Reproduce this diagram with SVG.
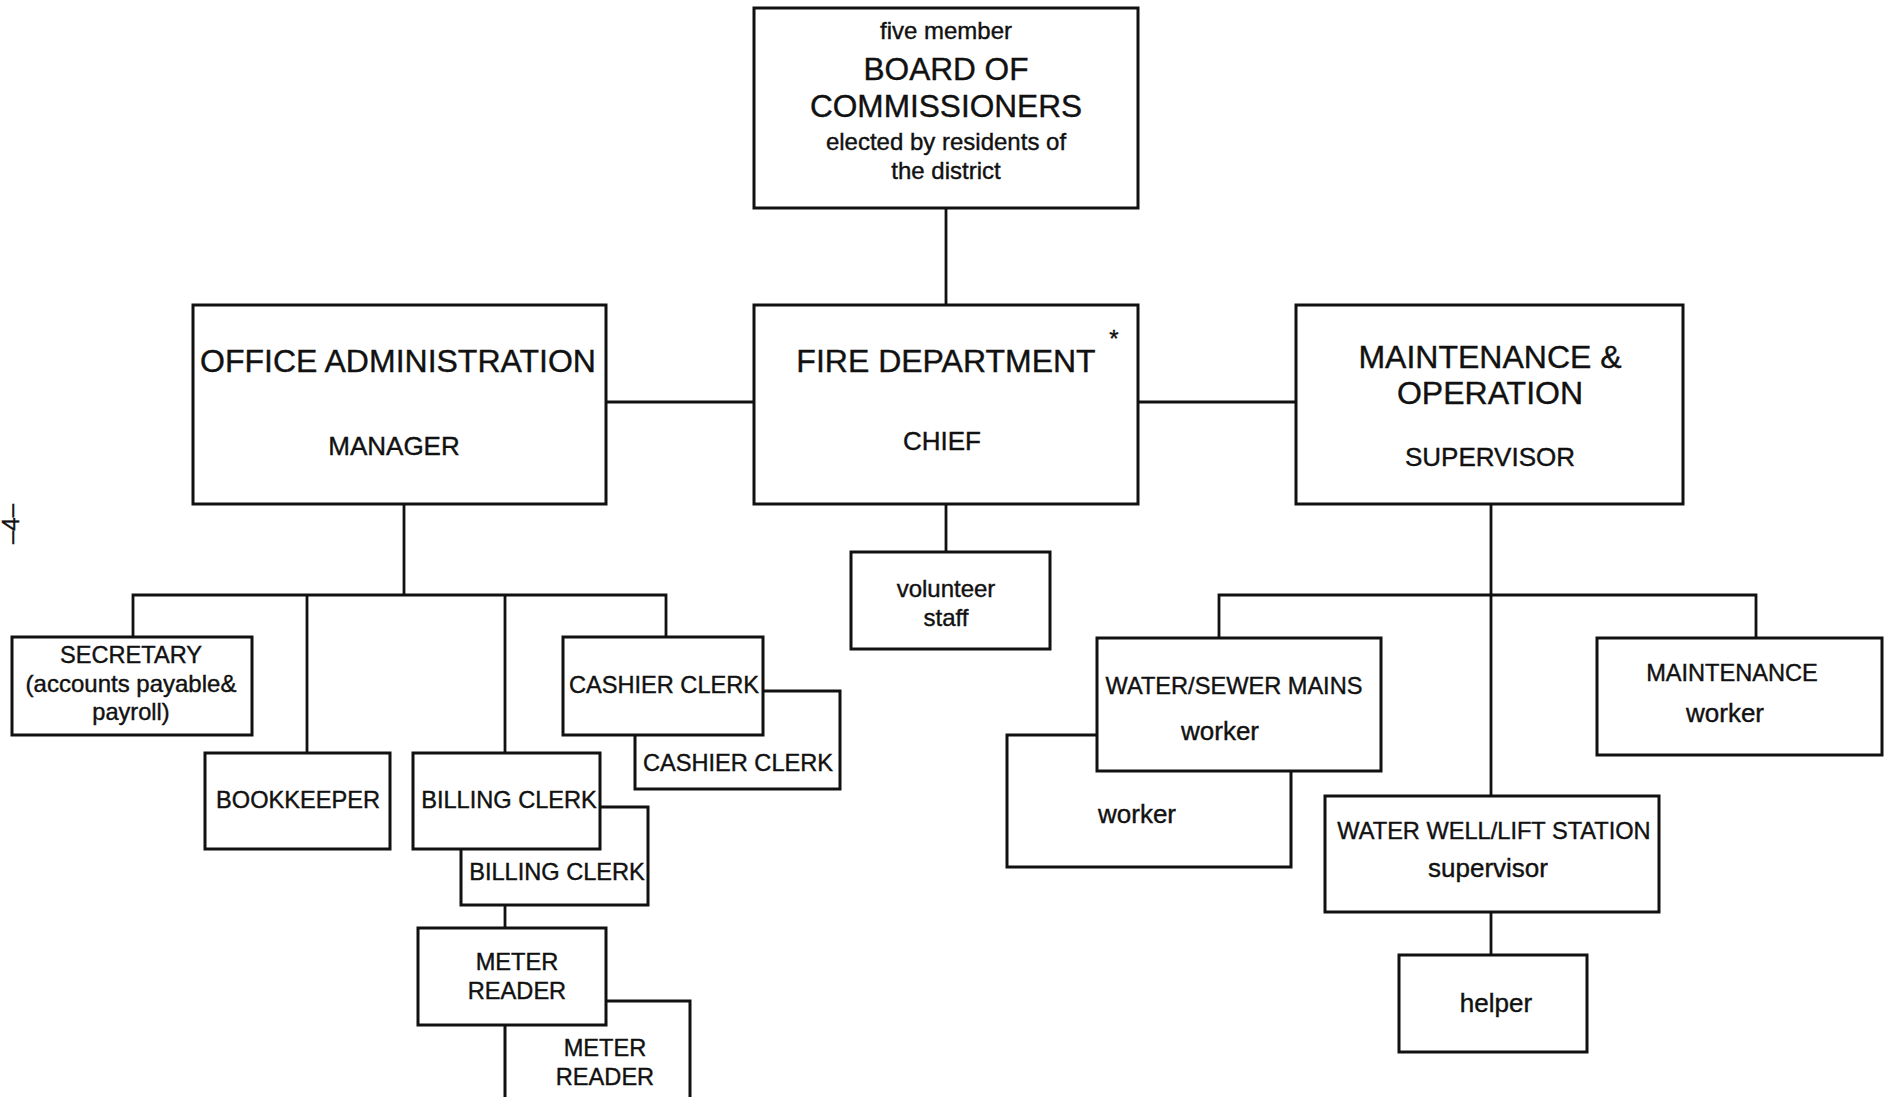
<svg xmlns="http://www.w3.org/2000/svg" width="1889" height="1097" viewBox="0 0 1889 1097">
<style>
.box{fill:#fff;stroke:#111;stroke-width:3}
.ln{fill:none;stroke:#111;stroke-width:2.8}
text{font-family:"Liberation Sans",Arial,Helvetica,sans-serif;fill:#111;stroke:#111;stroke-width:0.4;text-anchor:middle}
.t32{font-size:32px}
.t31{font-size:31.6px}
.t26{font-size:26px}
.t24{font-size:24px}
.t23{font-size:23.6px}
</style>
<rect width="1889" height="1097" fill="#fff"/>
<g id="connectors">
<line class="ln" x1="946" y1="208" x2="946" y2="305"/>
<line class="ln" x1="606" y1="402" x2="754" y2="402"/>
<line class="ln" x1="1138" y1="402" x2="1296" y2="402"/>
<line class="ln" x1="404" y1="504" x2="404" y2="595"/>
<polyline class="ln" points="133,637 133,595 666,595 666,637"/>
<line class="ln" x1="307" y1="595" x2="307" y2="753"/>
<line class="ln" x1="505" y1="595" x2="505" y2="753"/>
<line class="ln" x1="505" y1="905" x2="505" y2="928"/>
<line class="ln" x1="946" y1="504" x2="946" y2="552"/>
<line class="ln" x1="1491" y1="504" x2="1491" y2="796"/>
<polyline class="ln" points="1219,638 1219,595 1756,595 1756,638"/>
<line class="ln" x1="1491" y1="912" x2="1491" y2="955"/>
</g>
<g id="board">
<rect class="box" x="754" y="8" width="384" height="200"/>
<text class="t24" x="946" y="39">five member</text>
<text class="t31" x="946" y="80">BOARD OF</text>
<text class="t31" x="946" y="117">COMMISSIONERS</text>
<text class="t24" x="946" y="150">elected by residents of</text>
<text class="t24" x="946" y="179">the district</text>
</g>
<g id="office">
<rect class="box" x="193" y="305" width="413" height="199"/>
<text class="t32" x="398" y="372">OFFICE ADMINISTRATION</text>
<text class="t26" x="394" y="455">MANAGER</text>
</g>
<g id="fire">
<rect class="box" x="754" y="305" width="384" height="199"/>
<text class="t32" x="946" y="372">FIRE DEPARTMENT</text>
<text class="t24" x="1114" y="347">*</text>
<text class="t26" x="942" y="450">CHIEF</text>
</g>
<g id="maint">
<rect class="box" x="1296" y="305" width="387" height="199"/>
<text class="t32" x="1490" y="368">MAINTENANCE &amp;</text>
<text class="t32" x="1490" y="404">OPERATION</text>
<text class="t26" x="1490" y="466">SUPERVISOR</text>
</g>
<g id="secretary">
<rect class="box" x="12" y="637" width="240" height="98"/>
<text class="t23" x="131" y="663">SECRETARY</text>
<text class="t24" x="131" y="692">(accounts payable&amp;</text>
<text class="t23" x="131" y="720">payroll)</text>
</g>
<g id="bookkeeper">
<rect class="box" x="205" y="753" width="185" height="96"/>
<text class="t23" x="298" y="808">BOOKKEEPER</text>
</g>
<g id="billing2">
<rect class="box" x="461" y="807" width="187" height="98"/>
<text class="t23" x="557" y="880">BILLING CLERK</text>
</g>
<g id="billing1">
<rect class="box" x="413" y="753" width="187" height="96"/>
<text class="t23" x="509" y="808">BILLING CLERK</text>
</g>
<g id="meter2">
<rect class="box" x="505" y="1001" width="185" height="110"/>
<text class="t23" x="605" y="1056">METER</text>
<text class="t23" x="605" y="1085">READER</text>
</g>
<g id="meter1">
<rect class="box" x="418" y="928" width="188" height="97"/>
<text class="t23" x="517" y="970">METER</text>
<text class="t23" x="517" y="999">READER</text>
</g>
<g id="cashier2">
<rect class="box" x="635" y="691" width="205" height="98"/>
<text class="t23" x="738" y="771">CASHIER CLERK</text>
</g>
<g id="cashier1">
<rect class="box" x="563" y="637" width="200" height="98"/>
<text class="t23" x="664" y="693">CASHIER CLERK</text>
</g>
<g id="volunteer">
<rect class="box" x="851" y="552" width="199" height="97"/>
<text class="t24" x="946" y="597">volunteer</text>
<text class="t24" x="946" y="626">staff</text>
</g>
<g id="worker2">
<rect class="box" x="1007" y="735" width="284" height="132"/>
<text class="t26" x="1137" y="823">worker</text>
</g>
<g id="watersewer">
<rect class="box" x="1097" y="638" width="284" height="133"/>
<text class="t23" x="1234" y="694">WATER/SEWER MAINS</text>
<text class="t26" x="1220" y="740">worker</text>
</g>
<g id="maintenance">
<rect class="box" x="1597" y="638" width="285" height="117"/>
<text class="t23" x="1732" y="681">MAINTENANCE</text>
<text class="t26" x="1725" y="722">worker</text>
</g>
<g id="waterwell">
<rect class="box" x="1325" y="796" width="334" height="116"/>
<text class="t23" x="1494" y="839">WATER WELL/LIFT STATION</text>
<text class="t26" x="1488" y="877">supervisor</text>
</g>
<g id="helper">
<rect class="box" x="1399" y="955" width="188" height="97"/>
<text class="t26" x="1496" y="1012">helper</text>
</g>
<text x="19" y="524" font-size="24" transform="rotate(-90 19 524)">–4–</text>
</svg>
